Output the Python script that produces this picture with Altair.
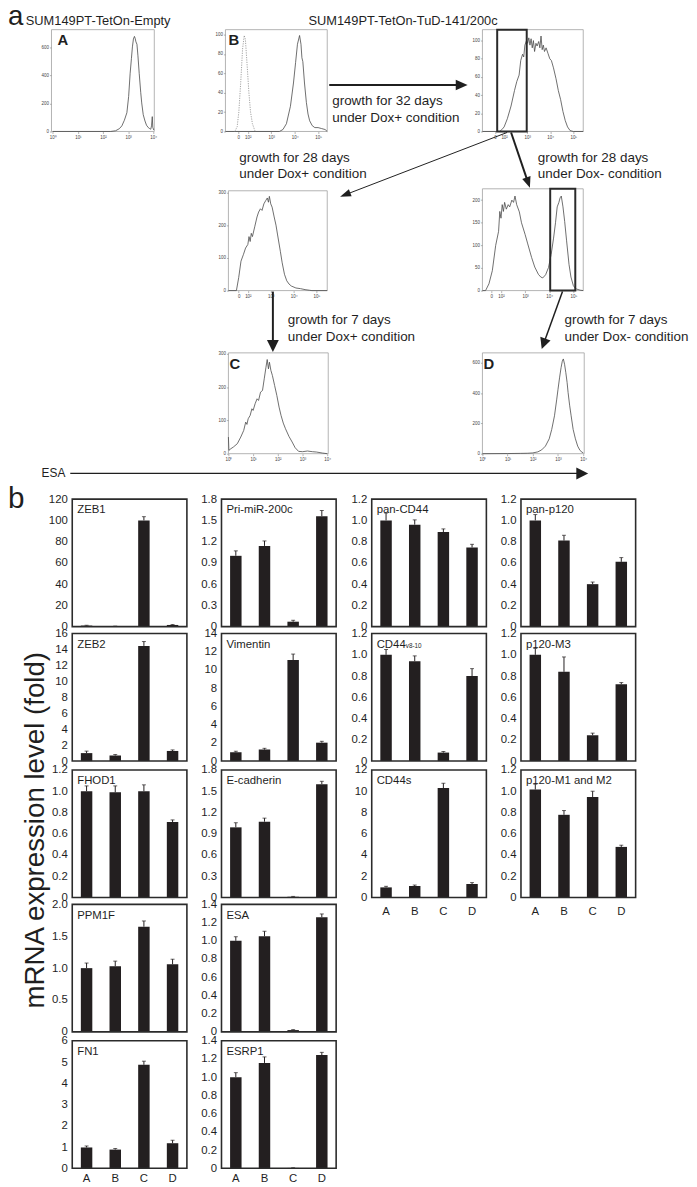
import math
import altair as alt
import pandas as pd

# ------------------------------------------------------------------ data
conditions = ["A", "B", "C", "D"]

# panel b : mRNA expression level (fold), bar heights and error bars
zeb1 = [1.0, 0.4, 100.0, 1.6]
zeb1_err = [0.3, 0.1, 3.5, 0.4]
zeb2 = [1.0, 0.7, 14.45, 1.27]
zeb2_err = [0.25, 0.12, 0.55, 0.13]
fhod1 = [1.0, 0.99, 1.0, 0.71]
fhod1_err = [0.05, 0.06, 0.06, 0.02]
ppm1f = [1.0, 1.03, 1.65, 1.06]
ppm1f_err = [0.08, 0.08, 0.09, 0.08]
fn1 = [0.98, 0.88, 4.87, 1.18]
fn1_err = [0.07, 0.05, 0.17, 0.14]
pri_mir200c = [1.0, 1.14, 0.07, 1.56]
pri_mir200c_err = [0.07, 0.07, 0.02, 0.08]
vimentin = [0.97, 1.26, 11.1, 2.02]
vimentin_err = [0.11, 0.14, 0.65, 0.15]
ecad = [0.99, 1.07, 0.01, 1.60]
ecad_err = [0.065, 0.05, 0.005, 0.04]
esa = [1.0, 1.05, 0.02, 1.26]
esa_err = [0.045, 0.055, 0.005, 0.035]
esrp1 = [1.0, 1.157, 0.004, 1.243]
esrp1_err = [0.05, 0.066, 0.002, 0.03]
pan_cd44 = [1.0, 0.96, 0.89, 0.745]
pan_cd44_err = [0.07, 0.045, 0.03, 0.03]
cd44v = [1.0, 0.94, 0.08, 0.80]
cd44v_err = [0.05, 0.05, 0.01, 0.07]
cd44s = [0.95, 1.08, 10.3, 1.27]
cd44s_err = [0.1, 0.09, 0.45, 0.13]
pan_p120 = [1.0, 0.81, 0.40, 0.61]
pan_p120_err = [0.055, 0.05, 0.02, 0.04]
p120_m3 = [1.0, 0.84, 0.243, 0.723]
p120_m3_err = [0.06, 0.14, 0.02, 0.016]
p120_m12 = [1.016, 0.778, 0.946, 0.476]
p120_m12_err = [0.05, 0.04, 0.054, 0.016]

ticks_120 = [0, 20, 40, 60, 80, 100, 120]
ticks_16 = [0, 2, 4, 6, 8, 10, 12, 14, 16]
ticks_14i = [0, 2, 4, 6, 8, 10, 12, 14]
ticks_12i = [0, 2, 4, 6, 8, 10, 12]
ticks_6 = [0, 1, 2, 3, 4, 5, 6]
ticks_18 = [0, 0.3, 0.6, 0.9, 1.2, 1.5, 1.8]
ticks_12 = [0, 0.2, 0.4, 0.6, 0.8, 1.0, 1.2]
ticks_14 = [0, 0.2, 0.4, 0.6, 0.8, 1.0, 1.2, 1.4]
ticks_20 = [0, 0.5, 1.0, 1.5, 2.0]

# panel a : flow cytometry histograms (x = decade position, y = count)
hist_a_u = [0, 2.3, 2.5, 2.65, 2.75, 2.85, 2.95, 3.02, 3.08, 3.13, 3.17, 3.21, 3.25, 3.28, 3.31,
            3.35, 3.39, 3.44, 3.5, 3.54, 3.6, 3.67, 3.73, 3.8, 3.86, 3.9, 3.93, 3.96, 3.98, 4.02]
hist_a_n = [0, 0, 5, 20, 40, 80, 134, 250, 416, 520, 604, 660, 679, 665, 640,
            623, 540, 416, 280, 204, 120, 75, 45, 28, 20, 16, 40, 106, 30, 10]
hist_b_ctrl_u = [1.45, 1.55, 1.62, 1.7, 1.78, 1.85, 1.9, 1.97, 2.05, 2.12, 2.2, 2.3, 2.36]
hist_b_ctrl_n = [0, 5, 20, 50, 85, 99, 95, 70, 40, 20, 8, 1, 0]
hist_b_u = [1.05, 3.35, 3.5, 3.65, 3.82, 3.95, 4.04, 4.12, 4.21, 4.27, 4.31, 4.35, 4.42, 4.5,
            4.57, 4.64, 4.75, 4.86, 5.0, 5.15, 5.3, 5.39]
hist_b_n = [0, 0, 2, 8, 26, 50, 71, 90, 99, 90, 76, 72, 50, 30, 18, 11, 6, 4, 4, 3, 2, 0]
hist_e_u = [1.06, 1.8, 1.9, 2.0, 2.14, 2.3, 2.45, 2.55, 2.65, 2.72, 2.8, 2.85, 2.9, 2.97, 3.02,
            3.07, 3.12, 3.17, 3.22, 3.27, 3.32, 3.38, 3.43, 3.5, 3.55, 3.6, 3.65, 3.7, 3.75,
            3.82, 3.9, 3.98, 4.05, 4.14, 4.25, 4.35, 4.45, 4.55, 4.65, 4.75, 4.86, 5.0, 5.43]
hist_e_n = [0, 0, 2, 5, 14, 28, 45, 55, 62, 78, 85, 82, 95, 100, 97,
            103, 95, 102, 92, 100, 88, 97, 94, 99, 92, 105, 90, 95, 88,
            92, 86, 80, 78, 70, 58, 45, 35, 22, 12, 5, 1, 0, 0]
hist_f_u = [1.15, 1.5, 1.6, 1.7, 1.81, 1.9, 2.0, 2.05, 2.1, 2.15, 2.2, 2.3, 2.4, 2.47, 2.55,
            2.62, 2.7, 2.78, 2.85, 2.9, 2.94, 3.0, 3.06, 3.15, 3.23, 3.3, 3.42, 3.5, 3.6, 3.7,
            3.8, 3.9, 4.1, 4.3, 4.5, 4.7, 4.8, 5.47]
hist_f_n = [0, 0, 40, 90, 111, 130, 141, 165, 150, 175, 165, 195, 225, 240, 250,
            245, 265, 275, 283, 270, 288, 265, 255, 225, 200, 170, 120, 85, 50, 30,
            20, 14, 8, 6, 3, 1, 0, 0]
hist_g_u = [1.23, 1.36, 1.5, 1.64, 1.78, 1.9, 1.95, 2.0, 2.05, 2.1, 2.15, 2.22, 2.3, 2.36, 2.45,
            2.52, 2.58, 2.65, 2.76, 2.85, 3.0, 3.1, 3.27, 3.4, 3.55, 3.65, 3.73, 3.85, 3.97,
            4.08, 4.18, 4.26, 4.33, 4.4, 4.45, 4.5, 4.57, 4.64, 4.72, 4.82, 4.9, 5.0, 5.1, 5.28, 5.41]
hist_g_n = [0, 0, 15, 44, 100, 131, 175, 160, 190, 175, 195, 180, 190, 185, 200,
            195, 209, 190, 174, 150, 124, 105, 73, 52, 36, 30, 28, 35, 51,
            80, 116, 150, 185, 195, 205, 209, 185, 153, 110, 58, 30, 11, 4, 1, 0]
hist_c_u = [0.0, 0.02, 0.1, 0.2, 0.36, 0.5, 0.62, 0.7, 0.75, 0.8, 0.88, 0.95, 1.0, 1.08, 1.16,
            1.22, 1.3, 1.38, 1.45, 1.52, 1.57, 1.62, 1.66, 1.72, 1.78, 1.87, 1.96, 2.05, 2.13,
            2.22, 2.31, 2.45, 2.58, 2.7, 2.84, 3.0, 3.2, 3.4, 3.56, 3.8, 4.0]
hist_c_n = [50, 10, 15, 20, 30, 50, 70, 95, 88, 105, 115, 135, 130, 150, 165,
            160, 185, 190, 225, 260, 283, 255, 275, 250, 235, 205, 175, 140, 115,
            92, 75, 52, 35, 18, 7, 6, 8, 6, 5, 2, 0]
hist_d_u = [0, 1.0, 1.5, 1.8, 2.0, 2.2, 2.35, 2.5, 2.65, 2.75, 2.86, 2.95, 3.0, 3.06, 3.12,
            3.17, 3.21, 3.26, 3.31, 3.36, 3.4, 3.46, 3.52, 3.6, 3.69, 3.78, 3.87, 3.95, 4.0]
hist_d_n = [0, 1, 2, 3, 5, 12, 25, 50, 98, 160, 250, 360, 425, 500, 567,
            610, 625, 590, 534, 470, 403, 320, 250, 160, 98, 50, 22, 10, 6]
gate_e = [1.70, 2.98]
gate_g = [4.04, 5.08]

# ------------------------------------------------------------------ layout helpers
W, H = 689, 1179
FONT = "Liberation Sans"
INK = "#1f1f1f"
BAR = "#231f20"
ONE = pd.DataFrame({"k": [0]})
layers = []


def px(x):
    return x - 8


def py(y):
    return y - 8


def add_text(s, x, y, size, weight="normal", align="left", baseline="alphabetic", angle=None, color=INK):
    kw = dict(align=align, baseline=baseline, font=FONT, fontSize=size, fontWeight=weight, color=color)
    if angle is not None:
        kw["angle"] = angle
    layers.append(alt.Chart(pd.DataFrame({"t": [s]})).mark_text(**kw).encode(
        text="t:N", x=alt.value(max(px(x), 0)), y=alt.value(py(y))))


def add_frame(box, color, width):
    x0, y0, x1, y1 = box
    layers.append(alt.Chart(ONE).mark_rect(fillOpacity=0, stroke=color, strokeWidth=width).encode(
        x=alt.value(px(x0)), x2=alt.value(px(x1)), y=alt.value(py(y0)), y2=alt.value(py(y1))))


def add_arrow(x0, y0, x1, y1, width, head, half):
    dx, dy = x1 - x0, y1 - y0
    d = math.hypot(dx, dy)
    ux, uy = dx / d, dy / d
    bx, by = x1 - ux * head * 0.8, y1 - uy * head * 0.8
    ang = math.degrees(math.atan2(dx, -dy)) % 360
    layers.append(alt.Chart(ONE).mark_rule(color=INK, strokeWidth=width).encode(
        x=alt.value(px(x0)), y=alt.value(py(y0)), x2=alt.value(px(bx)), y2=alt.value(py(by))))
    shape = f"M0,0L{-half},2L{half},2Z"
    layers.append(alt.Chart(ONE).mark_point(shape=shape, filled=True, size=head * head,
                                            angle=round(ang, 2), color=INK, opacity=1).encode(
        x=alt.value(px(x1)), y=alt.value(py(y1))))


SUP = "['\u2070','\u00b9','\u00b2','\u00b3','\u2074','\u2075']"
LOG_EXPR = "'10' + " + SUP + "[round(datum.value)]"
BIEX_EXPR = "datum.value < 1.9 ? '0' : '10' + " + SUP + "[round(datum.value)]"
LOG_TICKS = [0, 1, 2, 3, 4]
BIEX_TICKS = [1.6, 2, 3, 4, 5]

HAX = dict(grid=False, domain=False, ticks=True, tickSize=2, tickWidth=0.5, tickColor="#666",
           labelFontSize=4.5, labelColor="#444", labelFont=FONT, labelPadding=1,
           labelFlush=False, labelOverlap=False, title=None)


def add_hist(u, n, xdom, ydom, box, yticks, xticks, xexpr, extra=None, gate=None):
    x0, y0, x1, y1 = box
    add_frame(box, "#a0a0a0", 0.8)
    xsc = alt.Scale(domain=xdom, range=[px(x0), px(x1)], nice=False, zero=False)
    ysc = alt.Scale(domain=ydom, range=[py(y1), py(y0)], nice=False, zero=False)
    xax = alt.Axis(orient="bottom", offset=py(y1) - H, values=xticks, labelExpr=xexpr, **HAX)
    yax = alt.Axis(orient="left", offset=-px(x0), values=yticks, **HAX)
    df = pd.DataFrame({"u": u, "n": n})
    layers.append(alt.Chart(df).mark_line(color="#4a4a4a", strokeWidth=0.8).encode(
        x=alt.X("u:Q", scale=xsc, axis=xax), y=alt.Y("n:Q", scale=ysc, axis=yax)))
    if extra is not None:
        df2 = pd.DataFrame({"u": extra[0], "n": extra[1]})
        layers.append(alt.Chart(df2).mark_line(color="#8a8a8a", strokeWidth=0.8, strokeDash=[1.2, 1.2]).encode(
            x=alt.X("u:Q", scale=xsc, axis=None), y=alt.Y("n:Q", scale=ysc, axis=None)))
    if gate is not None:
        dg = pd.DataFrame({"g0": [gate[0]], "g1": [gate[1]]})
        layers.append(alt.Chart(dg).mark_rect(fillOpacity=0, stroke="#2a2a2a", strokeWidth=2).encode(
            x=alt.X("g0:Q", scale=xsc, axis=None), x2="g1:Q",
            y=alt.value(py(y0)), y2=alt.value(py(y1))))


COL_LEFT = [73, 224, 376, 527]
ROW_TOP = [498, 634, 772, 908, 1046]
PANEL_W, PANEL_H = 116, 129
DEC_EXPR = "datum.value == 0 ? '0' : format(datum.value, '.1f')"
INT_EXPR = "format(datum.value, 'd')"
BAX = dict(grid=False, domain=False, ticks=False, tickSize=0, labelFontSize=11.5, labelColor=INK,
           labelFont=FONT, labelFlush=False, labelOverlap=False, title=None)


def add_bars(label, vals, errs, ymax, yticks, decimal, col, row, xaxis_pad=None):
    L = COL_LEFT[col]
    T = ROW_TOP[row]
    R, B = L + PANEL_W, T + PANEL_H
    df = pd.DataFrame({"c": conditions, "v": vals, "e": errs})
    xsc = alt.Scale(domain=conditions, range=[px(L), px(R)], paddingInner=0.6, paddingOuter=0.3)
    ysc = alt.Scale(domain=[0, ymax], range=[py(B), py(T)], nice=False, zero=True)
    yax = alt.Axis(orient="left", offset=-px(L), values=yticks,
                   labelExpr=DEC_EXPR if decimal else INT_EXPR, labelPadding=5, **BAX)
    xax = None
    if xaxis_pad is not None:
        xax = alt.Axis(orient="bottom", offset=py(B) - H, labelPadding=xaxis_pad, labelAngle=0, **BAX)
    layers.append(alt.Chart(df).mark_bar(color=BAR).encode(
        x=alt.X("c:N", scale=xsc, axis=xax, sort=conditions),
        y=alt.Y("v:Q", scale=ysc, axis=yax)))
    base = alt.Chart(df).transform_calculate(hi="datum.v + datum.e")
    layers.append(base.mark_rule(color=BAR, strokeWidth=1).encode(
        x=alt.X("c:N", scale=xsc, axis=None, sort=conditions),
        y=alt.Y("v:Q", scale=ysc, axis=None), y2="hi:Q"))
    layers.append(base.mark_tick(color=BAR, thickness=1, size=4, orient="horizontal").encode(
        x=alt.X("c:N", scale=xsc, axis=None, sort=conditions),
        y=alt.Y("hi:Q", scale=ysc, axis=None)))
    add_frame((L, T, R, B), "#2b2b2b", 1.6)
    add_text(label, L + 5, T + 14.5, 11.5)


# ------------------------------------------------------------------ panel a
add_text("a", 0, 18, 28)
add_text("SUM149PT-TetOn-Empty", 26, 18, 13)
add_text("SUM149PT-TetOn-TuD-141/200c", 312, 18, 13)

add_hist(hist_a_u, hist_a_n, [-0.05, 4.04], [0, 727], (52, 23, 156, 126),
         [0, 200, 400, 600], LOG_TICKS, LOG_EXPR)
add_hist(hist_b_u, hist_b_n, [1.05, 5.39], [0, 105], (228, 23, 331, 126),
         [0, 20, 40, 60, 80, 100], BIEX_TICKS, BIEX_EXPR, extra=(hist_b_ctrl_u, hist_b_ctrl_n))
add_hist(hist_e_u, hist_e_n, [1.06, 5.43], [0, 112], (488, 23, 590, 126),
         [0, 20, 40, 60, 80, 100], BIEX_TICKS, BIEX_EXPR, gate=gate_e)
add_hist(hist_f_u, hist_f_n, [1.15, 5.47], [0, 305], (231, 186, 331, 287),
         [0, 100, 200, 300], BIEX_TICKS, BIEX_EXPR)
add_hist(hist_g_u, hist_g_n, [1.23, 5.41], [0, 225], (488, 184, 590, 287),
         [0, 50, 100, 150, 200], BIEX_TICKS, BIEX_EXPR, gate=gate_g)
add_hist(hist_c_u, hist_c_n, [0, 4.04], [0, 303], (231, 350, 332, 452),
         [0, 100, 200, 300], LOG_TICKS, LOG_EXPR)
add_hist(hist_d_u, hist_d_n, [0, 4.04], [0, 665], (488, 350, 591, 452),
         [0, 200, 400, 600], LOG_TICKS, LOG_EXPR)

add_text("A", 58, 39, 15, weight="bold")
add_text("B", 231, 39, 15, weight="bold")
add_text("C", 232, 366, 15, weight="bold")
add_text("D", 489, 366, 15, weight="bold")

GT = 13.6
add_text("growth for 32 days", 336, 99, GT)
add_text("under Dox+ condition", 336, 116, GT)
add_text("growth for 28 days", 242, 157, GT)
add_text("under Dox+ condition", 242, 173, GT)
add_text("growth for 28 days", 544, 157, GT)
add_text("under Dox- condition", 544, 173, GT)
add_text("growth for 7 days", 291, 321, GT)
add_text("under Dox+ condition", 291, 338, GT)
add_text("growth for 7 days", 571, 321, GT)
add_text("under Dox- condition", 571, 338, GT)
add_text("ESA", 42, 476, 12)

add_arrow(333, 79, 473, 79, 2, 12, 0.9)
add_arrow(513, 127, 344, 192, 1, 11, 0.7)
add_arrow(517, 127, 536, 183, 2, 11, 0.8)
add_arrow(276, 288, 276, 349, 2, 12, 1.0)
add_arrow(569, 288, 548, 346, 1.5, 11, 1.0)
add_arrow(71, 472, 595, 472, 1.2, 12, 1.0)

# ------------------------------------------------------------------ panel b
add_text("b", 0, 507, 30)
add_text("mRNA expression level (fold)", 44, 833, 28, align="center", angle=270)

add_bars("ZEB1", zeb1, zeb1_err, 120, ticks_120, False, 0, 0)
add_bars("ZEB2", zeb2, zeb2_err, 16, ticks_16, False, 0, 1)
add_bars("FHOD1", fhod1, fhod1_err, 1.2, ticks_12, True, 0, 2)
add_bars("PPM1F", ppm1f, ppm1f_err, 2.0, ticks_20, True, 0, 3)
add_bars("FN1", fn1, fn1_err, 6, ticks_6, False, 0, 4, xaxis_pad=4)
add_bars("Pri-miR-200c", pri_mir200c, pri_mir200c_err, 1.8, ticks_18, True, 1, 0)
add_bars("Vimentin", vimentin, vimentin_err, 14, ticks_14i, False, 1, 1)
add_bars("E-cadherin", ecad, ecad_err, 1.8, ticks_18, True, 1, 2)
add_bars("ESA", esa, esa_err, 1.4, ticks_14, True, 1, 3)
add_bars("ESRP1", esrp1, esrp1_err, 1.4, ticks_14, True, 1, 4, xaxis_pad=4)
add_bars("pan-CD44", pan_cd44, pan_cd44_err, 1.2, ticks_12, True, 2, 0)
add_bars("CD44", cd44v, cd44v_err, 1.2, ticks_12, True, 2, 1)
add_text("v8-10", COL_LEFT[2] + 34.5, ROW_TOP[1] + 15, 6.4)
add_bars("CD44s", cd44s, cd44s_err, 12, ticks_12i, False, 2, 2, xaxis_pad=8)
add_bars("pan-p120", pan_p120, pan_p120_err, 1.2, ticks_12, True, 3, 0)
add_bars("p120-M3", p120_m3, p120_m3_err, 1.2, ticks_12, True, 3, 1)
add_bars("p120-M1 and M2", p120_m12, p120_m12_err, 1.2, ticks_12, True, 3, 2, xaxis_pad=8)

chart = alt.layer(*layers).resolve_scale(x="independent", y="independent").properties(
    width=W, height=H, autosize=alt.AutoSizeParams(type="none"), padding=0, background="white"
).configure_view(stroke=None)

chart.save("out.html", embed_options={"renderer": "svg", "actions": False})
